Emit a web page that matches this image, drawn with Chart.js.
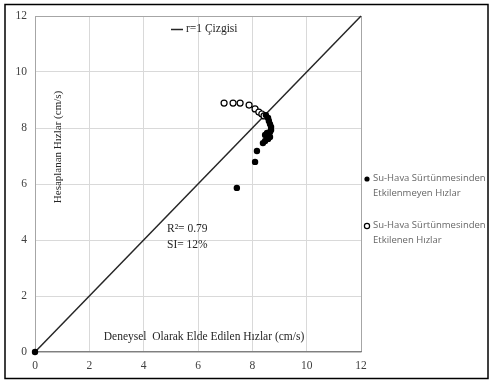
<!DOCTYPE html>
<html>
<head>
<meta charset="utf-8">
<script src="https://cdn.jsdelivr.net/npm/chart.js@4.4.1/dist/chart.umd.min.js"></script>
<style>
  html, body { margin: 0; padding: 0; background: #ffffff; }
  #wrap { width: 494px; height: 381px; position: relative; }
</style>
</head>
<body>
<div id="wrap"><canvas id="c" width="494" height="381"></canvas></div>
<script>
// Axis range and tick labels (cm/s)
const axisMin = 0;
const axisMax = 12;
const tickStep = 2;

// Velocities not affected by water-air friction: measured (x) vs computed (y)
const unaffectedX = [0, 8.50, 8.58, 8.61, 8.65, 8.69, 8.69, 8.65, 8.54, 8.47, 8.65, 8.58, 8.47, 8.39, 8.17, 8.10, 7.43];
const unaffectedY = [0, 8.46, 8.36, 8.25, 8.14, 8.04, 7.93, 7.86, 7.82, 7.75, 7.68, 7.61, 7.54, 7.46, 7.18, 6.79, 5.86];

// Velocities affected by water-air friction
const affectedX = [6.96, 7.29, 7.55, 7.88, 8.10, 8.24, 8.35, 8.43];
const affectedY = [8.89, 8.89, 8.89, 8.82, 8.68, 8.57, 8.50, 8.43];

// r = 1 reference line end points
const identityX = [0, 12];
const identityY = [0, 12];

// Labels
const xTitle = 'Deneysel  Olarak Elde Edilen Hızlar (cm/s)';
const yTitle = 'Hesaplanan Hızlar (cm/s)';
const lineLegend = 'r=1 Çizgisi';
const statsLines = ['R²= 0.79', 'SI= 12%'];
const seriesLegend = [
  ['Su-Hava Sürtünmesinden', 'Etkilenmeyen Hızlar'],
  ['Su-Hava Sürtünmesinden', 'Etkilenen Hızlar']
];

const toPoints = (xs, ys) => xs.map((x, i) => ({ x: x, y: ys[i] }));

const serif = '"Liberation Serif", "Times New Roman", serif';
const sans = '"Open Sans", "Liberation Sans", sans-serif';

const gridColor = (ctx) => (ctx.tick && ctx.tick.value === axisMax) ? '#a6a6a6' : '#d9d9d9';

// Annotations: frame, titles, stats and legends
const decorations = {
  id: 'decorations',
  afterDraw(chart) {
    const c = chart.ctx;
    c.save();

    // outer frame
    c.strokeStyle = '#000000';
    c.lineWidth = 1.5;
    c.strokeRect(5, 4.5, 483, 374);

    // axis titles inside the plot
    c.fillStyle = '#262626';
    c.font = '11.5px ' + serif;
    c.textAlign = 'center';
    c.textBaseline = 'middle';
    c.fillText(xTitle, 204, 337);
    c.font = '11px ' + serif;
    c.save();
    c.translate(58, 147);
    c.rotate(-Math.PI / 2);
    c.fillText(yTitle, 0, 0);
    c.restore();

    // fit statistics
    c.font = '11.5px ' + serif;
    c.textAlign = 'left';
    c.fillText(statsLines[0], 167, 229);
    c.fillText(statsLines[1], 167, 245);

    // r=1 line legend
    c.strokeStyle = '#262626';
    c.lineWidth = 1.5;
    c.beginPath();
    c.moveTo(171, 29.5);
    c.lineTo(183, 29.5);
    c.stroke();
    c.fillText(lineLegend, 186, 29);

    // series legend
    c.font = '9.5px ' + sans;
    const rows = [178, 225];
    rows.forEach((y, i) => {
      c.beginPath();
      c.arc(367, y + 1, 2.6, 0, Math.PI * 2);
      if (i === 0) {
        c.fillStyle = '#000000';
        c.fill();
      } else {
        c.fillStyle = '#ffffff';
        c.fill();
        c.strokeStyle = '#000000';
        c.lineWidth = 1.2;
        c.stroke();
      }
      c.fillStyle = '#666666';
      c.fillText(seriesLegend[i][0], 373, y);
      c.fillText(seriesLegend[i][1], 373, y + 15);
    });
    c.restore();
  }
};

new Chart(document.getElementById('c'), {
  type: 'scatter',
  data: {
    datasets: [
      {
        type: 'line',
        label: 'r=1',
        data: toPoints(identityX, identityY),
        borderColor: '#262626',
        borderWidth: 1.5,
        pointRadius: 0,
        fill: false,
        clip: false,
        order: 3
      },
      {
        label: 'affected',
        data: toPoints(affectedX, affectedY),
        pointRadius: 3,
        pointBackgroundColor: '#ffffff',
        pointBorderColor: '#000000',
        pointBorderWidth: 1.2,
        clip: false,
        order: 2
      },
      {
        label: 'unaffected',
        data: toPoints(unaffectedX, unaffectedY),
        pointRadius: 3.2,
        pointBackgroundColor: '#000000',
        pointBorderColor: '#000000',
        pointBorderWidth: 0,
        clip: false,
        order: 1
      }
    ]
  },
  options: {
    responsive: false,
    animation: false,
    devicePixelRatio: 1,
    layout: { padding: { top: 16, right: 133, left: 0, bottom: 0 } },
    plugins: {
      legend: { display: false },
      tooltip: { enabled: false }
    },
    scales: {
      x: {
        type: 'linear',
        min: axisMin,
        max: axisMax,
        afterFit(s) { s.height = 29; },
        ticks: {
          stepSize: tickStep,
          padding: 7,
          color: '#404040',
          font: { family: serif, size: 11.5 }
        },
        grid: { color: gridColor, lineWidth: 1, drawTicks: false },
        border: { color: '#7f7f7f', width: 1.2 }
      },
      y: {
        type: 'linear',
        min: axisMin,
        max: axisMax,
        afterFit(s) { s.width = 35; },
        ticks: {
          stepSize: tickStep,
          padding: 8,
          color: '#404040',
          font: { family: serif, size: 11.5 }
        },
        grid: { color: gridColor, lineWidth: 1, drawTicks: false },
        border: { color: '#a6a6a6', width: 1 }
      }
    }
  },
  plugins: [decorations]
});
</script>
</body>
</html>
